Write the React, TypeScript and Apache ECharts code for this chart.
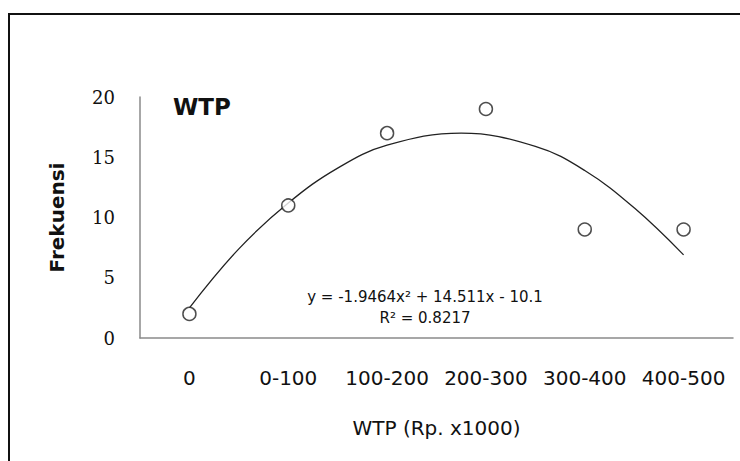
import React, { useEffect, useRef } from "react";
import * as echarts from "echarts";

const categories = ["0", "0-100", "100-200", "200-300", "300-400", "400-500"];
const frequencies = [2, 11, 17, 19, 9, 9];
// Trendline (position along the category axis, value)
const trendX = [1, 1.5, 2, 2.5, 3, 3.75, 4.5, 5, 5.5, 6];
const trendY = [2.5, 7.4, 11.2, 14.1, 16.0, 17.0, 15.9, 13.9, 10.8, 6.9];
const yTicks = { min: 0, max: 20, interval: 5 };
const equationText = "y = -1.9464x² + 14.511x - 10.1";
const r2Text = "R² = 0.8217";

export default function App() {
  const ref = useRef<HTMLDivElement>(null);
  useEffect(() => {
    if (!ref.current) return;
    const chart = echarts.init(ref.current, null, { renderer: "svg" });
    const sans = "DejaVu Sans";
    chart.setOption({
      animation: false,
      backgroundColor: "#ffffff",
      grid: { left: 140, right: 7, top: 97, bottom: 123 },
      xAxis: [
        {
          type: "category",
          data: categories,
          boundaryGap: true,
          axisLine: { lineStyle: { color: "#8a8a8a", width: 1.5 } },
          axisTick: { show: false },
          axisLabel: {
            interval: 0,
            hideOverlap: false,
            margin: 30,
            fontFamily: sans,
            fontSize: 20,
            color: "#111111",
          },
          name: "WTP (Rp. x1000)",
          nameLocation: "middle",
          nameGap: 80,
          nameTextStyle: { fontFamily: sans, fontSize: 20, color: "#111111" },
          splitLine: { show: false },
        },
        {
          type: "value",
          min: 0.5,
          max: 6.5,
          show: false,
          splitLine: { show: false },
        },
      ],
      yAxis: {
        type: "value",
        min: yTicks.min,
        max: yTicks.max,
        interval: yTicks.interval,
        axisLine: { show: true, lineStyle: { color: "#8a8a8a", width: 1.5 } },
        axisTick: { show: false },
        splitLine: { show: false },
        axisLabel: { margin: 25, fontFamily: "DejaVu Serif", fontSize: 18, color: "#111111" },
        name: "Frekuensi",
        nameLocation: "middle",
        nameGap: 73,
        nameTextStyle: { fontFamily: sans, fontSize: 20, fontWeight: "bold", color: "#111111" },
      },
      series: [
        {
          type: "line",
          xAxisIndex: 1,
          data: trendX.map((x, i) => [x, trendY[i]]),
          smooth: 0.4,
          showSymbol: false,
          lineStyle: { color: "#222222", width: 1.3 },
          z: 1,
        },
        {
          type: "scatter",
          xAxisIndex: 0,
          data: frequencies,
          symbol: "circle",
          symbolSize: 13,
          itemStyle: { color: "#ffffff", borderColor: "#222222", borderWidth: 1.5 },
          z: 2,
        },
      ],
      graphic: [
        {
          type: "rect",
          shape: { x: 9, y: 14, width: 760, height: 480 },
          style: { fill: "none", stroke: "#111111", lineWidth: 2 },
          silent: true,
        },
        {
          type: "text",
          x: 173,
          y: 107,
          style: {
            text: "WTP",
            fontFamily: sans,
            fontSize: 23,
            fontWeight: "bold",
            fill: "#111111",
            align: "left",
            verticalAlign: "middle",
          },
        },
        {
          type: "text",
          x: 425,
          y: 297,
          style: {
            text: equationText,
            fontFamily: sans,
            fontSize: 15,
            fill: "#111111",
            align: "center",
            verticalAlign: "middle",
          },
        },
        {
          type: "text",
          x: 425,
          y: 318,
          style: {
            text: r2Text,
            fontFamily: sans,
            fontSize: 15,
            fill: "#111111",
            align: "center",
            verticalAlign: "middle",
          },
        },
      ],
    });
    return () => chart.dispose();
  }, []);
  return (
    <div
      ref={ref}
      style={{ position: "fixed", left: 0, top: 0, width: 740, height: 461, background: "#fff" }}
    />
  );
}
